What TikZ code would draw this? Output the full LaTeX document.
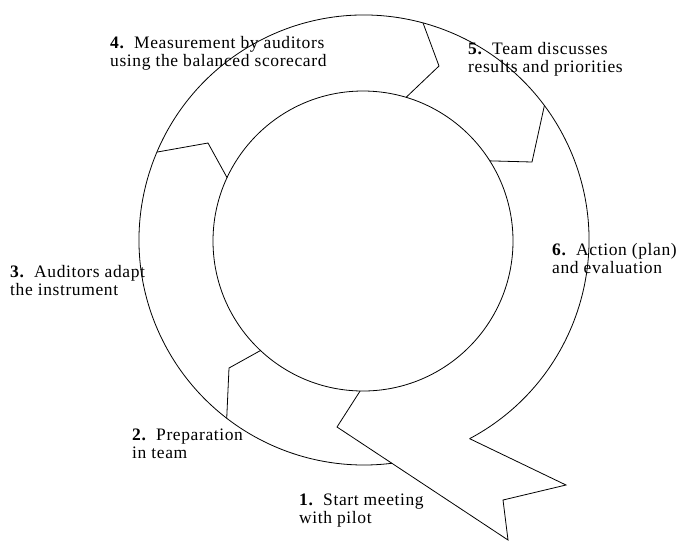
\documentclass[tikz,border=0pt]{standalone}
\usepackage{fontspec}
\setmainfont{Liberation Serif}
\newfontfamily\lblfam[LetterSpace=3.5]{Liberation Serif}
\usetikzlibrary{calc}
\newcommand{\lblfont}{\lblfam\fontsize{17.5}{17.5}\selectfont\lineskiplimit=-100pt\relax}
\newcommand{\num}[1]{\textbf{#1}\hspace{0.55em}}
\tikzset{
  lbl/.style={align=left, inner sep=0pt, font=\lblfont, anchor=base west},
  ring/.style={line width=0.8pt, line join=miter}
}
\begin{document}
\begin{tikzpicture}[x=1pt,y=1pt]
\useasboundingbox (0,0) rectangle (676,-542);
\coordinate (O) at (364,-240);
\coordinate (I) at (363,-241);
% inner circle
\draw[ring] (I) circle[radius=150];
% outer arc
\draw[ring] ($(O)+(298:225)$) coordinate (tailtop) arc[start angle=298, end angle=637.1, radius=225] coordinate (headout);
% boundaries
\coordinate (t45) at (439,-66);
\coordinate (t56) at (532,-162);
\coordinate (t34) at (208,-143);
\coordinate (t23) at (229,-368);
\coordinate (t12) at (337,-427);
\coordinate (tailA) at (508,-540);
\coordinate (tailB) at (503,-500);
\coordinate (tailC) at (566,-485);
\draw[ring] ($(O)+(74.8:225)$) -- (t45) -- ($(I)+(73.3:150)$);
\draw[ring] ($(O)+(36.7:225)$) -- (t56) -- ($(I)+(32.3:150)$);
\draw[ring] ($(O)+(157:225)$) -- (t34) -- ($(I)+(155:150)$);
\draw[ring] ($(O)+(232.4:225)$) -- (t23) -- ($(I)+(226.9:150)$);
\draw[ring] ($(I)+(268.9:150)$) -- (t12) -- (tailA) -- (tailB) -- (tailC) -- (tailtop);
% labels (anchor = baseline of the last line)
\node[lbl] (l4) at (110,-66) {\num{4.}Measurement by auditors\\using the balanced scorecard};
\node[lbl] (l5) at (468,-72) {\num{5.}Team discusses\\results and priorities};
\node[lbl] (l3) at (10,-295) {\num{3.}Auditors adapt\\the instrument};
\node[lbl] (l6) at (552,-273) {\num{6.}Action (plan)\\and evaluation};
\node[lbl] (l2) at (132,-458) {\num{2.}Preparation\\in team};
\node[lbl] (l1) at (299,-523) {\num{1.}Start meeting\\with pilot};
\end{tikzpicture}
\end{document}
